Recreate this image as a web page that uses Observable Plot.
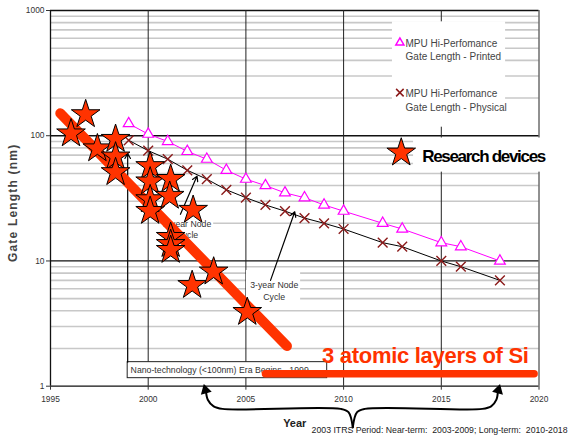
<!DOCTYPE html>
<html><head><meta charset="utf-8">
<script src="https://cdn.jsdelivr.net/npm/d3@7"></script>
<script src="https://cdn.jsdelivr.net/npm/@observablehq/plot@0.6"></script>
<style>body{margin:0;background:#fff} svg{overflow:visible}</style>
</head><body><div id="chart"></div><script>
// ---- data ----
const itrsYears = [1999,2000,2001,2002,2003,2004,2005,2006,2007,2008,2009,2010,2012,2013,2015,2016,2018];
const printedNm = [125,103,90,75,65,53,45,40,35,32,28,25,20,18,14,13,10];
const physicalNm = [92,76,65,53,45,37,32,28,25,22,20,18,14,13,10,9,7];
const starYears = [1996.05,1996.8,1997.4,1998.33,1998.33,1998.33,2000.1,2000.1,2000.1,2000.1,2001.15,2001.1,2002.3,2001.15,2001.15,2001.15,2002.25,2003.35,2005.07];
const starNm    = [104,148,79,94,68,51,57,43,31,25,45,33,25.5,15.5,13.6,12.2,6.4,8.2,3.9];
const trendYears = [1995.5, 2007.1];
const trendNm = [151, 2.09];
const siYears = [2006.0, 2019.75];
const siNm = [1.26, 1.26];
const xTicks = [1995,2000,2005,2010,2015,2020];
const yTicks = [1,10,100,1000];
const minorTicks = [1,10,100].flatMap(d => [2,3,4,5,6,7,8,9].map(k => d*k));
const legendLabels = ["MPU Hi-Perfomance\nGate Length - Printed","MPU Hi-Perfomance\nGate Length - Physical","Research devices"];

// ---- font detection ----
function hasFont(name){
  const c=document.createElement("canvas").getContext("2d");
  c.font="20px monospace"; const a=c.measureText("abcdefghij 1999").width;
  c.font=`20px '${name}', monospace`; const b=c.measureText("abcdefghij 1999").width;
  return Math.abs(a-b)>0.5;
}
const SANS = "'Liberation Sans', Arial, sans-serif";
const NARROW = hasFont("Liberation Sans Narrow") ? "'Liberation Sans Narrow', 'Liberation Sans', sans-serif" : SANS;
const nScale = NARROW === SANS ? 0.84 : 1;

const printed = itrsYears.map((x,i)=>({x, y: printedNm[i]}));
const physical = itrsYears.map((x,i)=>({x, y: physicalNm[i]}));
const stars = starYears.map((x,i)=>({x, y: starNm[i]}));
const trend = trendYears.map((x,i)=>({x, y: trendNm[i]}));
const si = siYears.map((x,i)=>({x, y: siNm[i]}));

const RED = "#ff3300";
const braceL = [[2002.95,0.93],[2003.05,0.78],[2003.35,0.69],[2003.8,0.659],[2009.85,0.659],[2010.25,0.62],[2010.47,0.47]].map(([x,y])=>({x,y,z:"l"}));
const braceR = [[2010.47,0.47],[2010.69,0.62],[2011.09,0.659],[2017.1,0.659],[2017.55,0.69],[2017.82,0.78],[2017.9,0.93]].map(([x,y])=>({x,y,z:"r"}));

const chart = Plot.plot({
  width: 568, height: 443,
  marginLeft: 50, marginRight: 29.5, marginTop: 10, marginBottom: 57.3,
  x: {domain: [1995, 2020]},
  y: {type: "log", domain: [1, 1000]},
  style: {fontFamily: NARROW, fontSize: "10px", color: "#333", background: "white", overflow: "visible"},
  marks: [
    Plot.ruleY(minorTicks, {stroke: "#c8c8c8", strokeWidth: 1.6}),
    Plot.ruleY([10,100,1000], {stroke: "#111", strokeWidth: 1.3}),
    Plot.ruleX([2000,2005,2010,2015], {stroke: "#222", strokeWidth: 1}),
    Plot.ruleX([2020], {stroke: "#222", strokeWidth: 1}),
    // white boxes
    Plot.rect([{x1:2012.5,x2:2018.29,y1:117,y2:812},{x1:2013.58,x2:2020.6,y1:51.2,y2:95.9},
               {x1:2001.0,x2:2003.35,y1:14.3,y2:23.4},{x1:2005.03,x2:2007.8,y1:4.45,y2:8.4}],
      {x1:"x1",x2:"x2",y1:"y1",y2:"y2",fill:"white"}),
    // nano box
    Plot.rect([{x1:1998.95,x2:2009.16,y1:1.159,y2:1.556}], {x1:"x1",x2:"x2",y1:"y1",y2:"y2",fill:"white",stroke:"#222",strokeWidth:1}),
    Plot.text(["Nano-technology (<100nm) Era Begins - 1999"], {x: [1999.1], y: [1.348], textAnchor:"start", fontSize: 10.4*nScale, fill:"#333"}),
    Plot.text(["2-year Node\nCycle"], {x:[2002.0], y:[18.1], fontSize:10.4*nScale, lineHeight:1.3, fill:"#333"}),
    Plot.text(["3-year Node\nCycle"], {x:[2006.45], y:[5.8], fontSize:10.4*nScale, lineHeight:1.35, fill:"#333"}),
    // axis frame
    Plot.ruleX([1995], {stroke:"#111", strokeWidth:1.3}),
    Plot.ruleY([1], {stroke:"#111", strokeWidth:1.3}),
    Plot.axisX({ticks: xTicks, tickFormat: d => String(d), tickSize: 4, tickPadding: 6, label: null, fontSize: 10*nScale}),
    Plot.axisY({ticks: yTicks, tickFormat: d => String(d), tickSize: 4, tickPadding: 2, label: null, fontSize: 10*nScale}),
    // ITRS lines
    Plot.line(printed, {x:"x", y:"y", stroke:"#ff00ff", strokeWidth:1}),
    Plot.line(physical, {x:"x", y:"y", stroke:"#000", strokeWidth:1}),
    Plot.dot(printed, {x:"x", y:"y", symbol:"triangle", r:4, stroke:"#ff00ff", fill:"white", strokeWidth:1.2}),
    Plot.dot(physical, {x:"x", y:"y", symbol:"times", r:4.5, stroke:"#8b1a1a", strokeWidth:1.4}),
    // arrows
    Plot.arrow([{x1:1998.95,y1:1.556,x2:1998.95,y2:72},{x1:2001.65,y1:23.6,x2:2002.5,y2:47.6},{x1:2006.26,y1:7.0,x2:2007.5,y2:24.7}],
      {x1:"x1",y1:"y1",x2:"x2",y2:"y2", stroke:"#000", strokeWidth:1.2, headLength:7}),
    // red lines
    Plot.line(trend, {x:"x", y:"y", stroke: RED, strokeWidth: 10, strokeLinecap:"round"}),
    Plot.line(si, {x:"x", y:"y", stroke: RED, strokeWidth: 7.5, strokeLinecap:"round"}),
    // stars
    Plot.dot(stars, {x:"x", y:"y", symbol:"star", r:9, fill: RED, stroke:"#000", strokeWidth:1}),
    Plot.text(["3 atomic layers of Si"], {x:[2008.9], y:[1.76], textAnchor:"start", fontFamily:SANS, fontWeight:"bold", fontSize:22, fill:RED}),
    // legend
    Plot.dot([{x:2012.88,y:554}], {x:"x",y:"y",symbol:"triangle",r:3,stroke:"#ff00ff",fill:"white",strokeWidth:1.5}),
    Plot.dot([{x:2012.88,y:221}], {x:"x",y:"y",symbol:"times",r:3.5,stroke:"#8b1a1a",strokeWidth:1.5}),
    Plot.text([legendLabels[0]], {x:[2013.17], y:[490], textAnchor:"start", fontFamily:SANS, fontSize:10, lineHeight:1.3, fill:"#444"}),
    Plot.text([legendLabels[1]], {x:[2013.17], y:[195], textAnchor:"start", fontFamily:SANS, fontSize:10, lineHeight:1.45, fill:"#444"}),
    Plot.dot([{x:2012.95,y:73.1}], {x:"x",y:"y",symbol:"star",r:9,fill:RED,stroke:"#000",strokeWidth:1}),
    Plot.text([legendLabels[2]], {x:[2014.02], y:[68.8], textAnchor:"start", fontFamily:SANS, fontWeight:"bold", fontSize:17, fill:"#000"}),
    // brace
    Plot.line(braceL.concat(braceR), {x:"x", y:"y", z:"z", curve:"catmull-rom", stroke:"#000", strokeWidth:2}),
    Plot.dot([{x:2002.93,y:0.93,r:-15},{x:2017.92,y:0.93,r:15}], {x:"x",y:"y",rotate:"r",symbol:"triangle",r:3.2,fill:"#000",stroke:"#000"}),
    // titles
    Plot.text(["Gate Length (nm)"], {frameAnchor:"left", textAnchor:"middle", dx:-37, dy:4.5, rotate:-90, fontFamily:SANS, fontSize:12, fontWeight:"bold", fill:"#444"}),
    Plot.text(["Year"], {frameAnchor:"bottom", dy:41, fontFamily:SANS, fontSize:11, fontWeight:"bold", fill:"#222"}),
    Plot.text(["2003 ITRS Period: Near-term:  2003-2009; Long-term:  2010-2018"], {frameAnchor:"bottom-right", textAnchor:"end", dx:28.5, dy:46.5, fontSize:10.4*nScale, fill:"#222"})
  ]
});
// letter spacing tweaks (Plot's text mark has no letterSpacing option)
const spacing = {"Research devices": -1.3, "Gate Length (nm)": 1.2, "3 atomic layers of Si": -0.3};
chart.querySelectorAll("text").forEach(t => {
  const s = spacing[t.textContent];
  if (s !== undefined) t.setAttribute("letter-spacing", s);
});
document.getElementById("chart").appendChild(chart);
</script></body></html>
